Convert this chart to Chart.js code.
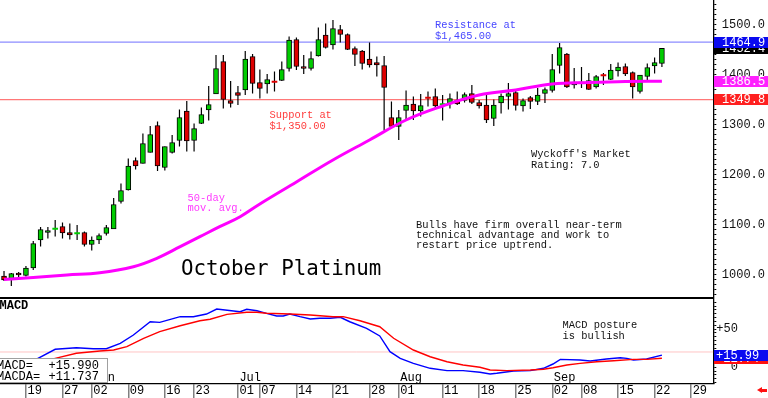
<!DOCTYPE html>
<html lang="en">
<head>
<meta charset="UTF-8" />
<title>October Platinum</title>
<script src="https://cdn.jsdelivr.net/npm/chart.js"></script>
<style>
  body { margin: 0; background: #fff; }
  #wrap { position: relative; width: 768px; height: 398px; overflow: hidden; background: #fff; }
  canvas { position: absolute; left: 0; }
  .note {
    position: absolute;
    font-family: 'Liberation Mono', monospace;
    font-size: 10.4px;
    line-height: 10.6px;
    white-space: pre;
    color: #111;
  }
  .vbox {
    position: absolute;
    left: 714px; width: 54px; height: 11px;
    overflow: hidden;
    font-family: 'Liberation Mono', monospace;
    font-size: 12px; line-height: 12px;
    color: #fff;
    padding-left: 8px; box-sizing: border-box;
  }
  .mbox { padding-left: 2px; }
  .month {
    position: absolute; top: 371.5px;
    font-family: 'Liberation Mono', monospace;
    font-size: 12px; line-height: 12px; color: #000;
  }
  #legend {
    position: absolute; left: -1px; top: 358px; width: 109px; height: 25px;
    background: #fff; border: 1px solid #a0a0a0; box-sizing: border-box;
    font-family: 'Liberation Mono', monospace; font-size: 12px; line-height: 11.5px; color: #000;
  }
  #legend span { position: absolute; white-space: pre; }
</style>
</head>
<body>
<div id="wrap">
  <canvas id="price" width="768" height="298" style="top:0"></canvas>
  <canvas id="macd" width="768" height="100" style="top:298px"></canvas>

  <div style="position:absolute;left:0;top:297.4px;width:713.3px;height:1.5px;background:#000"></div>

  <div class="note" style="left:435px;top:20px;color:#4646ff">Resistance at
$1,465.00</div>
  <div class="note" style="left:269.5px;top:110px;color:#ff3c3c">Support at
$1,350.00</div>
  <div class="note" style="left:187.5px;top:192.5px;color:#ff3cff">50-day
mov. avg.</div>
  <div class="note" style="left:531px;top:149px">Wyckoff's Market
Rating: 7.0</div>
  <div class="note" style="left:416px;top:220px;line-height:10px">Bulls have firm overall near-term
technical advantage and work to
restart price uptrend.</div>
  <div class="note" style="left:181px;top:257.6px;font-family:'DejaVu Sans Mono',monospace;font-size:20.8px;line-height:20.8px;color:#000">October Platinum</div>
  <div class="note" style="left:562.5px;top:320px">MACD posture
is bullish</div>
  <div class="note" style="left:-0.5px;top:301px;font-size:12px;line-height:10px;font-weight:bold;color:#000">MACD</div>

  <div id="months"></div>

  <div id="legend">
    <span style="left:-3px;top:1.5px">MACD=</span>
    <span style="left:48.5px;top:1.5px" id="lgMacd"></span>
    <span style="left:-3px;top:13px">MACDA=</span>
    <span style="left:48.5px;top:13px" id="lgSig"></span>
  </div>

  <div class="vbox" id="bClose" style="background:#000"></div>
  <div class="vbox" id="bRes" style="background:#0a0af0"></div>
  <div class="vbox" id="bMa" style="background:#ff20ff"></div>
  <div class="vbox" id="bSup" style="background:#ff2020"></div>
  <div class="vbox mbox" id="bSig" style="background:#ff1010"></div>
  <div class="vbox mbox" id="bMacd" style="background:#0a0af0"></div>

  <div style="position:absolute;left:757px;top:387px;width:0;height:0;border-top:3.5px solid transparent;border-bottom:3.5px solid transparent;border-right:5px solid #ff1010"></div>
  <div style="position:absolute;left:761.5px;top:389.2px;width:5px;height:2.6px;background:#ff1010"></div>
</div>

<script>
// daily candles, trading-day index 0..90
const opens  = [997, 990, 1003, 998, 1013, 1069, 1084, 1090, 1096, 1084, 1081, 1084, 1060, 1069, 1082, 1091,
  1146, 1169, 1228, 1222, 1244, 1298, 1214, 1244, 1268, 1327, 1268, 1302, 1329, 1361, 1426, 1348, 1364,
  1369, 1436, 1384, 1381, 1387, 1388, 1412, 1470, 1416, 1412, 1437, 1479, 1459, 1490, 1480, 1452, 1447,
  1431, 1424, 1418, 1314, 1296, 1328, 1341, 1327, 1355, 1356, 1339, 1341, 1349, 1348, 1362, 1344, 1339,
  1312, 1343, 1356, 1364, 1337, 1354, 1346, 1362, 1368, 1418, 1441, 1379, 1382, 1388, 1375, 1400, 1390,
  1407, 1416, 1404, 1366, 1396, 1417, 1422];
const highs  = [1007, 1003, 1005, 1017, 1067, 1095, 1095, 1109, 1104, 1102, 1099, 1086, 1076, 1082, 1099, 1153,
  1182, 1232, 1234, 1282, 1297, 1306, 1256, 1279, 1330, 1347, 1302, 1334, 1377, 1439, 1439, 1387, 1377,
  1447, 1441, 1410, 1401, 1406, 1426, 1476, 1474, 1439, 1446, 1494, 1502, 1509, 1499, 1482, 1456, 1449,
  1464, 1436, 1437, 1346, 1329, 1368, 1356, 1361, 1366, 1372, 1359, 1362, 1366, 1364, 1379, 1349, 1359,
  1350, 1362, 1383, 1370, 1352, 1357, 1373, 1374, 1441, 1463, 1443, 1413, 1415, 1403, 1399, 1403, 1421,
  1424, 1422, 1406, 1399, 1422, 1434, 1453];
const lows   = [987, 977, 995, 996, 1009, 1056, 1072, 1076, 1072, 1070, 1069, 1056, 1048, 1061, 1078, 1091,
  1142, 1168, 1210, 1222, 1244, 1207, 1208, 1242, 1256, 1246, 1246, 1301, 1308, 1361, 1332, 1334, 1339,
  1359, 1362, 1352, 1362, 1366, 1387, 1406, 1409, 1401, 1408, 1436, 1452, 1450, 1464, 1449, 1417, 1410,
  1414, 1396, 1288, 1292, 1269, 1309, 1309, 1316, 1336, 1332, 1308, 1332, 1339, 1344, 1341, 1332, 1303,
  1297, 1322, 1330, 1328, 1326, 1331, 1339, 1343, 1364, 1402, 1373, 1372, 1373, 1369, 1372, 1379, 1389,
  1396, 1397, 1352, 1362, 1385, 1402, 1415];
const closes = [989, 1002, 999, 1013, 1062, 1090, 1088, 1093, 1083, 1079, 1084, 1060, 1069, 1078, 1094, 1140,
  1168, 1217, 1217, 1262, 1280, 1217, 1256, 1264, 1314, 1267, 1292, 1320, 1340, 1412, 1350, 1342, 1358,
  1431, 1382, 1372, 1390, 1384, 1410, 1469, 1416, 1412, 1432, 1470, 1454, 1492, 1480, 1450, 1440, 1422,
  1419, 1419, 1374, 1296, 1314, 1339, 1327, 1338, 1352, 1337, 1342, 1352, 1341, 1360, 1344, 1337, 1309,
  1339, 1357, 1362, 1338, 1348, 1346, 1359, 1370, 1410, 1454, 1375, 1385, 1385, 1370, 1396, 1397, 1409,
  1415, 1401, 1375, 1399, 1414, 1424, 1452.4];

// 50-day moving average, read at sample days
const maIdx = [0, 4, 8.6, 13.1, 17.7, 20.9, 24.1, 26.8, 29.5, 32.3, 35, 40, 45, 50, 55, 60, 65, 70, 75, 80, 85, 90];
const maVal = [990, 994, 999, 1003.6, 1015.6, 1032.4, 1055.6, 1075.6, 1095.6, 1115.6, 1141, 1185, 1229, 1269,
  1309, 1337, 1359, 1369, 1381, 1384, 1386, 1386.5];

// MACD panel
const macdIdx = [3, 4.2, 7.0, 9.9, 12.2, 14.0, 15.9, 17.7, 20.0, 21.3, 24.1, 25.9, 27.7, 29.1, 31.4, 32.3,
  33.2, 34.6, 35.9, 37.3, 38.2, 39.1, 40.5, 41.9, 43.2, 44.6, 46.0, 47.3, 49.6, 51.4, 52.8, 54.2, 56.0,
  58.3, 60.6, 62.8, 65.1, 66.5, 67.4, 69.7, 72.0, 73.8, 75.1, 76.1, 78.8, 80.2, 82.4, 84.3, 85.2, 86.1,
  87.9, 90.0];
const macdVal = [2, 9.5, 23.5, 25.6, 24.3, 24.3, 31.3, 42.2, 59.5, 58.7, 66.1, 66.1, 69.6, 76.1, 73.5, 72.6,
  75.7, 73.9, 70.5, 67.0, 67.0, 69.6, 66.1, 63.1, 64.0, 64.0, 65.3, 59.5, 50.9, 41.0, 20.4, 11.7, 5.2,
  -1.3, -4.4, -4.4, -6.5, -8.7, -7.8, -4.8, -4.4, -1.3, 4.3, 10.4, 9.5, 8.2, 10.8, 12.5, 11.7, 9.5,
  10.8, 15.99];
const sigIdx = [5, 7.0, 9.9, 13.1, 15.0, 16.8, 19.1, 21.3, 24.1, 26.8, 28.2, 30.5, 33.2, 34.6, 35.9, 39.1,
  41.9, 45.0, 46.4, 48.7, 51.4, 53.3, 56.0, 58.3, 60.6, 62.8, 65.1, 66.5, 68.8, 72.0, 73.8, 75.1, 77.0,
  78.8, 81.1, 83.4, 86.1, 87.9, 90.0];
const sigVal = [6, 11.7, 18.3, 21.3, 22.6, 26.9, 37.9, 46.5, 54.3, 60.8, 62.7, 69.2, 71.8, 71.8, 70.5, 69.6,
  68.3, 66.1, 66.1, 60.8, 53.0, 37.9, 22.6, 13.8, 7.3, 3.0, 0, -3.5, -4.4, -3.5, -2.6, -0.5, 3.0,
  5.2, 7.3, 8.6, 10.4, 10.4, 11.737];

// date row and month names
const dateIdx = [3, 8, 12, 17, 22, 26, 32, 35, 40, 45, 50, 54, 60, 65, 70, 75, 79, 84, 89, 94];
const dateLbl = ['19', '27', '02', '09', '16', '23', '01', '07', '14', '21', '28', '01', '11', '18', '25',
  '02', '08', '15', '22', '29'];
const monthIdx = [12, 32, 54, 75];
const monthLbl = ['Jun', 'Jul', 'Aug', 'Sep'];

const priceLabels = [1000, 1100, 1200, 1300, 1400, 1500];
const macdLabels = [0, 50];

const resistance = 1464.9;
const support = 1349.8;
const lastClose = 1452.4;
const lastMa = 1386.5;
const lastMacd = 15.990;
const lastSig = 11.737;
const macdRef = 20;

const xMin = -0.55, xMax = 97.03;
const AXIS_W = 54.7;
const GREEN = '#00cc00', RED = '#dd0000';
const MONO = 'Liberation Mono';

const pts = (xs, ys) => xs.map((x, k) => ({x: x, y: ys[k]}));
const flat = v => [{x: xMin, y: v}, {x: xMax, y: v}];

const priceChart = new Chart(document.getElementById('price'), {
  type: 'bar',
  data: {
    datasets: [
      {
        type: 'line', data: pts(maIdx, maVal),
        borderColor: '#ff00ff', borderWidth: 3, pointRadius: 0, tension: 0.4
      },
      {
        type: 'bar', grouped: false, barThickness: 5,
        data: opens.map((o, k) => ({x: k, y: [o, closes[k]]})),
        backgroundColor: closes.map((c, k) => c >= opens[k] ? GREEN : RED),
        borderColor: '#000',
        borderWidth: closes.map((c, k) => Math.abs(c - opens[k]) <= 3 ? 0 : 1),
        borderSkipped: false
      },
      {
        type: 'bar', grouped: false, barThickness: 1.2, inflateAmount: 0,
        data: lows.map((l, k) => ({x: k, y: [l, highs[k]]})),
        backgroundColor: '#000'
      },
      { type: 'line', data: flat(resistance), borderColor: '#8c8cff', borderWidth: 1.3, pointRadius: 0 },
      { type: 'line', data: flat(support), borderColor: '#ff7878', borderWidth: 1.3, pointRadius: 0 }
    ]
  },
  options: {
    responsive: false, animation: false, events: [], devicePixelRatio: 1,
    layout: { padding: 0 },
    plugins: { legend: { display: false }, tooltip: { enabled: false } },
    scales: {
      x: { type: 'linear', min: xMin, max: xMax, display: false, offset: false },
      y: {
        position: 'right', min: 953, max: 1549,
        afterBuildTicks: s => {
          const t = [];
          for (let v = 960; v <= 1540; v += 10) t.push({value: v});
          s.ticks = t;
        },
        afterFit: s => { s.width = AXIS_W; s.paddingTop = 0; s.paddingBottom = 0; },
        ticks: {
          autoSkip: false, padding: 5.5, color: '#111',
          font: { family: MONO, size: 12 },
          callback: v => priceLabels.includes(v) ? v.toFixed(1) : ''
        },
        grid: { drawOnChartArea: false, drawTicks: true, tickLength: 3, color: '#000' },
        border: { display: true, color: '#000', width: 1.3 }
      }
    }
  }
});

const macdChart = new Chart(document.getElementById('macd'), {
  type: 'line',
  data: {
    datasets: [
      { data: pts(sigIdx, sigVal), borderColor: '#ff0000', borderWidth: 1.4, pointRadius: 0 },
      { data: pts(macdIdx, macdVal), borderColor: '#0000ff', borderWidth: 1.4, pointRadius: 0 },
      { data: flat(macdRef), borderColor: '#ffc4c4', borderWidth: 1, pointRadius: 0 }
    ]
  },
  options: {
    responsive: false, animation: false, events: [], devicePixelRatio: 1,
    layout: { padding: { top: 1 } },
    plugins: { legend: { display: false }, tooltip: { enabled: false } },
    scales: {
      x: {
        type: 'linear', min: xMin, max: xMax, position: 'bottom', offset: false,
        afterBuildTicks: s => { s.ticks = dateIdx.map(v => ({value: v})); },
        afterFit: s => { s.height = 14.5; s.paddingLeft = 0; s.paddingRight = 0; },
        ticks: {
          autoSkip: false, maxRotation: 0, minRotation: 0,
          align: 'start', labelOffset: 1.5, padding: -14.1, color: '#000',
          font: { family: MONO, size: 12 },
          callback: (v, k) => dateLbl[k]
        },
        grid: { drawOnChartArea: false, drawTicks: true, tickLength: 14.5, color: '#808080', lineWidth: 1.5 },
        border: { display: true, color: '#000', width: 1.2 }
      },
      y: {
        position: 'right', min: -21.15, max: 89.2,
        afterBuildTicks: s => {
          const t = [];
          for (let v = -20; v <= 85; v += 5) t.push({value: v});
          s.ticks = t;
        },
        afterFit: s => { s.width = AXIS_W; s.paddingTop = 0; s.paddingBottom = 0; },
        ticks: {
          autoSkip: false, padding: 0, color: '#111',
          font: { family: MONO, size: 12 },
          callback: v => macdLabels.includes(v) ? (v > 0 ? '+' + v : '  ' + v) : ''
        },
        grid: { drawOnChartArea: false, drawTicks: true, tickLength: 3, color: '#000' },
        border: { display: true, color: '#000', width: 1.3 }
      }
    }
  }
});

// value tags on the right axis, placed through each chart's own y scale
function tag(id, chart, v, text) {
  const el = document.getElementById(id);
  const y = chart.scales.y.getPixelForValue(v) + chart.canvas.offsetTop;
  el.style.top = (y - 5.5) + 'px';
  el.textContent = text;
}
tag('bClose', priceChart, lastClose, lastClose.toFixed(1));
tag('bRes', priceChart, resistance, resistance.toFixed(1));
tag('bMa', priceChart, lastMa, lastMa.toFixed(1));
tag('bSup', priceChart, support, support.toFixed(1));
tag('bSig', macdChart, lastSig, '+' + lastSig.toFixed(2));
tag('bMacd', macdChart, lastMacd, '+' + lastMacd.toFixed(2));

document.getElementById('lgMacd').textContent = '+' + lastMacd.toFixed(3);
document.getElementById('lgSig').textContent = '+' + lastSig.toFixed(3);

// month names inside the MACD panel, just right of the first day of each month
const months = document.getElementById('months');
monthIdx.forEach((m, k) => {
  const d = document.createElement('div');
  d.className = 'month';
  d.style.left = (macdChart.scales.x.getPixelForValue(m) + 1.5) + 'px';
  d.textContent = monthLbl[k];
  months.appendChild(d);
});
</script>
</body>
</html>
